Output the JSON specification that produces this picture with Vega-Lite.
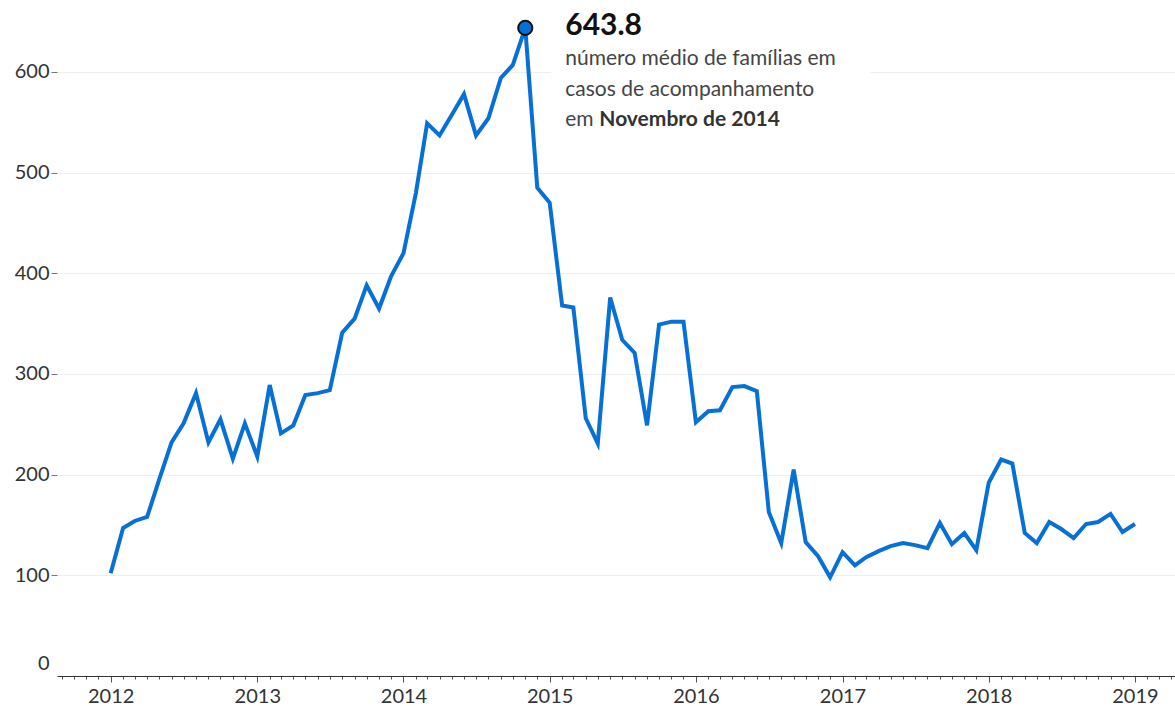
{
  "$schema": "https://vega.github.io/schema/vega-lite/v6.json",
  "width": 1118,
  "height": 676,
  "autosize": {"type": "none"},
  "padding": {"left": 57, "top": 0, "right": 0, "bottom": 30},
  "background": "white",
  "config": {"view": {"stroke": null}},
  "datasets": {
    "series": [
      {"date": "2012-01", "value": 102}, {"date": "2012-02", "value": 147}, {"date": "2012-03", "value": 154}, {"date": "2012-04", "value": 158},
      {"date": "2012-05", "value": 195}, {"date": "2012-06", "value": 232}, {"date": "2012-07", "value": 251}, {"date": "2012-08", "value": 281},
      {"date": "2012-09", "value": 232}, {"date": "2012-10", "value": 255}, {"date": "2012-11", "value": 216}, {"date": "2012-12", "value": 251},
      {"date": "2013-01", "value": 218}, {"date": "2013-02", "value": 289}, {"date": "2013-03", "value": 241}, {"date": "2013-04", "value": 249},
      {"date": "2013-05", "value": 279}, {"date": "2013-06", "value": 281}, {"date": "2013-07", "value": 284}, {"date": "2013-08", "value": 341},
      {"date": "2013-09", "value": 355}, {"date": "2013-10", "value": 388}, {"date": "2013-11", "value": 365}, {"date": "2013-12", "value": 397},
      {"date": "2014-01", "value": 420}, {"date": "2014-02", "value": 480}, {"date": "2014-03", "value": 549}, {"date": "2014-04", "value": 537},
      {"date": "2014-05", "value": 557}, {"date": "2014-06", "value": 578}, {"date": "2014-07", "value": 537}, {"date": "2014-08", "value": 554},
      {"date": "2014-09", "value": 594}, {"date": "2014-10", "value": 607}, {"date": "2014-11", "value": 643.8}, {"date": "2014-12", "value": 485},
      {"date": "2015-01", "value": 470}, {"date": "2015-02", "value": 368}, {"date": "2015-03", "value": 366}, {"date": "2015-04", "value": 256},
      {"date": "2015-05", "value": 231}, {"date": "2015-06", "value": 376}, {"date": "2015-07", "value": 334}, {"date": "2015-08", "value": 321},
      {"date": "2015-09", "value": 249}, {"date": "2015-10", "value": 349}, {"date": "2015-11", "value": 352}, {"date": "2015-12", "value": 352},
      {"date": "2016-01", "value": 252}, {"date": "2016-02", "value": 263}, {"date": "2016-03", "value": 264}, {"date": "2016-04", "value": 287},
      {"date": "2016-05", "value": 288}, {"date": "2016-06", "value": 283}, {"date": "2016-07", "value": 163}, {"date": "2016-08", "value": 132},
      {"date": "2016-09", "value": 205}, {"date": "2016-10", "value": 133}, {"date": "2016-11", "value": 119}, {"date": "2016-12", "value": 98},
      {"date": "2017-01", "value": 123}, {"date": "2017-02", "value": 110}, {"date": "2017-03", "value": 118}, {"date": "2017-04", "value": 124},
      {"date": "2017-05", "value": 129}, {"date": "2017-06", "value": 132}, {"date": "2017-07", "value": 130}, {"date": "2017-08", "value": 127},
      {"date": "2017-09", "value": 152}, {"date": "2017-10", "value": 131}, {"date": "2017-11", "value": 142}, {"date": "2017-12", "value": 125},
      {"date": "2018-01", "value": 192}, {"date": "2018-02", "value": 215}, {"date": "2018-03", "value": 211}, {"date": "2018-04", "value": 142},
      {"date": "2018-05", "value": 132}, {"date": "2018-06", "value": 153}, {"date": "2018-07", "value": 146}, {"date": "2018-08", "value": 137},
      {"date": "2018-09", "value": 151}, {"date": "2018-10", "value": 153}, {"date": "2018-11", "value": 161}, {"date": "2018-12", "value": 143},
      {"date": "2019-01", "value": 151}
    ],
    "peak": [{"date": "2014-11", "value": 643.8}]
  },
  "data": {"name": "series", "format": {"parse": {"date": "date:'%Y-%m'"}}},
  "encoding": {
    "x": {
      "field": "date",
      "type": "temporal",
      "scale": {"domain": [{"year": 2011, "month": 8, "date": 20}, {"year": 2019, "month": 4, "date": 11}]},
      "axis": {
        "title": null,
        "tickCount": {"interval": "month", "step": 1},
        "labelExpr": "month(datum.value) == 0 ? timeFormat(datum.value, '%Y') : ''",
        "tickSize": {"condition": {"test": "month(datum.value) == 0", "value": 6}, "value": 3},
        "labelOverlap": false,
        "labelFlush": false,
        "grid": false,
        "domainColor": "#333333",
        "tickColor": "#555555",
        "labelFont": "Lato",
        "labelFontSize": 20,
        "labelColor": "#333333",
        "labelPadding": 4
      }
    },
    "y": {
      "field": "value",
      "type": "quantitative",
      "scale": {"domain": [0, 671.5], "nice": false},
      "axis": {
        "title": null,
        "values": [0, 100, 200, 300, 400, 500, 600],
        "domain": false,
        "tickSize": 6,
        "tickColor": "#777777",
        "tickOpacity": {"condition": {"test": "datum.value == 0", "value": 0}, "value": 1},
        "labelOffset": {"condition": {"test": "datum.value == 0", "value": -13}, "value": 0},
        "labelPadding": 2,
        "gridColor": {"condition": {"test": "datum.value == 0", "value": "transparent"}, "value": "#eeeeee"},
        "labelFont": "Lato",
        "labelFontSize": 20,
        "labelColor": "#333333"
      }
    }
  },
  "layer": [
    {
      "data": {"name": "peak", "format": {"parse": {"date": "date:'%Y-%m'"}}},
      "mark": {"type": "point", "shape": "M0.26,0.14L3.45,0.14L3.45,1.07L0.26,1.07Z", "size": 40000, "filled": true, "color": "white", "opacity": 1, "strokeWidth": 0}
    },
    {
      "mark": {"type": "line", "color": "#0670d6", "strokeWidth": 4}
    },
    {
      "data": {"name": "peak", "format": {"parse": {"date": "date:'%Y-%m'"}}},
      "mark": {"type": "point", "filled": true, "size": 200, "fill": "#0670d6", "stroke": "#111111", "strokeWidth": 2, "opacity": 1}
    },
    {
      "data": {"name": "peak", "format": {"parse": {"date": "date:'%Y-%m'"}}},
      "mark": {"type": "text", "text": "643.8", "align": "left", "baseline": "alphabetic", "dx": 40, "dy": 7, "font": "Lato", "fontWeight": "bold", "fontSize": 30, "color": "#111111"}
    },
    {
      "data": {"name": "peak", "format": {"parse": {"date": "date:'%Y-%m'"}}},
      "mark": {"type": "text", "text": "número médio de famílias em", "align": "left", "baseline": "alphabetic", "dx": 40, "dy": 37, "font": "Lato", "fontSize": 21, "color": "#444444"}
    },
    {
      "data": {"name": "peak", "format": {"parse": {"date": "date:'%Y-%m'"}}},
      "mark": {"type": "text", "text": "casos de acompanhamento", "align": "left", "baseline": "alphabetic", "dx": 40, "dy": 68, "font": "Lato", "fontSize": 21, "color": "#444444"}
    },
    {
      "data": {"name": "peak", "format": {"parse": {"date": "date:'%Y-%m'"}}},
      "mark": {"type": "text", "text": "em", "align": "left", "baseline": "alphabetic", "dx": 40, "dy": 98, "font": "Lato", "fontSize": 21, "color": "#444444"}
    },
    {
      "data": {"name": "peak", "format": {"parse": {"date": "date:'%Y-%m'"}}},
      "mark": {"type": "text", "text": "Novembro de 2014", "align": "left", "baseline": "alphabetic", "dx": 74, "dy": 98, "font": "Lato", "fontWeight": "bold", "fontSize": 21, "color": "#333333"}
    }
  ]
}
